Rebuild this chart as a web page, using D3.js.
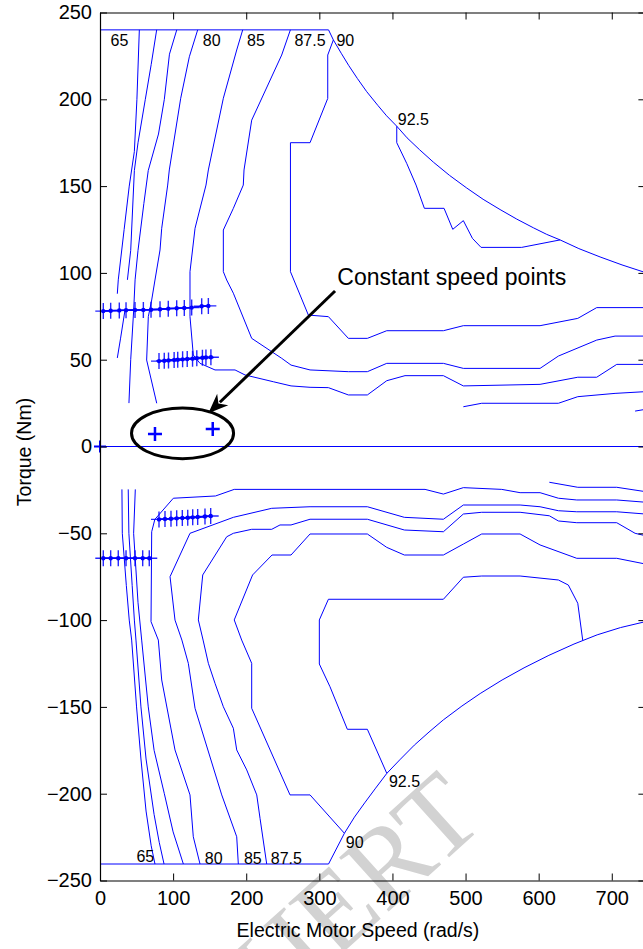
<!DOCTYPE html>
<html><head><meta charset="utf-8">
<script src="https://cdn.jsdelivr.net/npm/d3@7"></script>
<style>
body{margin:0;background:#fff}
svg{display:block}
text{font-family:"Liberation Sans",Arial,Helvetica,sans-serif}
</style>
</head><body>
<svg id="c" width="643" height="949"></svg>
<script>
// ---------------- DATA (speed rad/s, torque Nm) ----------------
const xTicks = [0,100,200,300,400,500,600,700];
const yTicks = [-250,-200,-150,-100,-50,0,50,100,150,200,250];
const xLabel = "Electric Motor Speed (rad/s)";
const yLabel = "Torque (Nm)";
const noteText = "Constant speed points";
const watermarkText = "IJERT";

// max torque envelope (motoring / generating)
const envelopeTop = [[0,240],[312.6,240],[319.2,234.2],[330,226.5],[340,219.6],[352,212],[364.8,204.4],[380,196.5],[392,190.5],[405.9,184.5],[420,177.8],[437,171],[456,163.8],[478,156.2],[501.6,148.9],[524,142.4],[547.2,136.5],[570,131],[592.7,126],[611,122.2],[629.3,119],[655,114],[684,109.2],[714,104.6],[746,100.2]];
const envelopeBottom = [[0,-240.5],[312.6,-240.5],[334.3,-222.8],[348,-213.5],[362,-205.3],[377,-196.8],[392.3,-188.3],[410,-180.5],[430,-172],[450,-164.5],[469.6,-157.5],[495,-149.5],[520,-142.3],[550,-134.5],[580,-127.5],[614,-120.3],[648.3,-113.8],[680,-108.5],[712,-104.3],[746,-100.9]];
const zeroLine = [[0,0],[746,0]];

// efficiency contours, motoring half
const c65Top = [[53.8,240],[50.5,200],[47,170],[40,150],[33,125],[25,96],[23.7,88]];
const c70Top = [[77.5,240],[70,220],[62,200],[52,175],[47,159],[42,113],[37.5,96]];
const c70TopLow = [[34,78],[28,62],[23.7,51]];
const c75Top = [[105,240],[95,226],[88,200],[80,180],[66,159],[60,140],[52,113],[48,96],[46,78],[42,50],[39.6,25]];
const c80Top = [[133.6,240],[122.2,224.5],[110.4,200.6],[94.8,159.3],[92.6,150.6],[84.4,125.7],[82.1,113.2],[75.2,95.9],[70.7,84.4],[66.1,74.8],[63.8,49.8],[77.6,24.9]];
const c85Top = [[195.2,240],[187,228.4],[168.7,200.6],[148.2,159.3],[145,150.6],[130,125.7],[123.1,100.7],[123.1,74.8],[127.6,52.7],[136.8,47.9],[157.3,44.1],[184.7,44.1],[198.4,41.2],[237.1,37.3],[261.3,34.9],[287.3,34.1],[312.4,33.9],[339.7,29.7],[365.7,29.7],[392.2,37.9],[417.2,40.8],[469.7,40.8],[497,34.9],[601.9,35.8],[653.5,39.9],[679.4,39.9],[706.8,47.3],[746,47.3]];
const c875Top = [[260.4,240],[248.5,225.5],[207.5,188],[197,159.3],[196,150.6],[182.4,137.2],[168.7,124.7],[168.7,100.7],[173.3,95.9],[182.4,88.3],[207.5,62.3],[248.5,50.8],[261.3,46.9],[287.3,44.1],[339.7,43.1],[365.7,43.1],[392.2,47.9],[469.7,47.9],[497,45],[601.9,45],[627,52.1],[679.4,61.3],[704.5,63.6],[746,63.6]];
const c90Top = [[319.2,234.2],[311.5,225.5],[311.5,200.5],[287.3,175],[260.5,175],[260.5,100.7],[285,75.7],[312.4,74.8],[339.7,62.3],[365.7,62.3],[392.2,66.7],[469.7,66.7],[497,69.6],[601.9,69.6],[653.5,73.8],[679.4,80],[746,80]];
const c925Top = [[405.9,184.5],[405.9,175],[419.5,163.1],[432.3,150.6],[443.7,137.2],[470.6,137.2],[482.5,125.1],[497,130.1],[509.4,119.9],[521.2,114.7],[576.8,114.7],[629.3,119]];
const c80TopHigh = [[497,22.9],[522.1,24.9],[627,24.9],[653.5,28.7],[704.5,30.6],[746,31.6]];
const c75TopHigh = [[731.9,20.4],[746,21.4]];

// efficiency contours, generating half
const c65Bot = [[30,-24.7],[30.5,-50],[36,-80],[40,-100],[43.3,-111.5],[50,-150],[56,-180],[63,-210],[70,-230],[75.2,-240.5]];
const c70Bot = [[38.6,-24.7],[39.5,-50],[44,-80],[47,-100],[49.2,-111.5],[56,-150],[63,-180],[74,-212],[81,-228],[87.6,-240.5]];
const c75Bot = [[48.3,-24.7],[46,-50],[52,-90],[57,-111.5],[66,-150],[74,-175],[88,-200],[100,-222],[114,-240.5]];
const c80Bot = [[746,-32.1],[706.8,-30.8],[652.1,-30.8],[627,-29.8],[601.9,-26.6],[574.6,-26.6],[549.5,-24.7],[497,-23.7],[469.7,-27.4],[444.6,-24.7],[183.6,-24.7],[158,-28.5],[100.3,-29.8],[75,-42],[70.7,-49.1],[69.8,-100.9],[79.8,-111.5],[84.4,-134.5],[102.6,-174.8],[123.1,-200.7],[127.6,-224.8],[136.8,-240.5]];
const c85Bot = [[746,-38.9],[706.8,-37.6],[652.1,-37.6],[627,-37],[601.9,-34.7],[574.6,-33.7],[497,-33.7],[469.7,-41.9],[416.3,-40.8],[365.7,-34.7],[287.3,-34.7],[234.9,-35.6],[182.4,-40.8],[123.1,-50],[95.8,-75],[102.6,-100],[112,-111.5],[120.8,-124.9],[130,-150.8],[166.5,-200.7],[187,-224.8],[189.2,-240.5]];
const c875Bot = [[746,-51.4],[731.9,-50],[706.8,-43.9],[652.1,-43.9],[627,-42.9],[614.6,-39.9],[574.6,-37.9],[522.1,-37.9],[497,-38.9],[469.7,-49.1],[416.3,-48.1],[365.7,-41.9],[287.3,-41.9],[261.3,-45.2],[246.2,-45.2],[234.9,-47.7],[207.5,-47.7],[182.4,-50],[173.3,-52],[140.5,-74],[134.5,-99.9],[141,-111.5],[148.2,-124.9],[157.3,-136.4],[168.7,-149.9],[182.4,-162.3],[187,-174.8],[200.7,-186.3],[214.4,-200.7],[218.9,-214.2],[228,-240.5]];
const c90Bot = [[746,-67.7],[706.8,-64.4],[652.1,-64.4],[601.9,-56.7],[574.6,-50.4],[522.1,-50.4],[497,-56.2],[469.7,-62.5],[416.3,-62.5],[392.2,-58.1],[365.7,-50.4],[287.3,-50.4],[261.3,-62.5],[235.3,-62.5],[208.7,-74],[183.6,-99.9],[193.8,-111.5],[207.5,-124.9],[207.5,-150.8],[259.9,-200.7],[287.3,-200.7],[334.3,-222.8]];
const c925Bot = [[392.3,-188.3],[365.7,-162.9],[338.3,-162.9],[314.6,-138.4],[300,-125.3],[300,-99.9],[312.4,-88],[469.7,-88],[497,-75.3],[522.1,-74.6],[574.6,-74.6],[627,-76.9],[640.6,-79.8],[653.5,-90.3],[660.3,-111.7]];
const c75BotHigh = [[614.6,-20.6],[653.5,-23.5],[706.8,-23.5],[746,-26]];

// contour labels: [text, speed, torque]
const contourLabels = [["65",26.7,233.6],["80",152.8,233.6],["85",213.4,233.6],["87.5",287.3,233.6],["90",335.6,233.6],["92.5",428.6,188.1],
  ["65",62,-235.9],["80",155.5,-237.6],["85",209,-237.6],["87.5",254.9,-237.6],["90",348.4,-228.2],["92.5",416.5,-192.7]];

// constant speed test points
const row1Speed = [4.5,14.6,26.4,35.6,47.9,59.3,69.8,82.1,93.4,104.9,115.3,125.4,139.1,148.2];
const row1Torque = [78,78.2,78.4,78.5,78.6,78.7,78.8,79.1,79.4,79.6,79.8,80,80.8,81];
const row2Speed = [80.7,87.9,93.7,101.4,106.3,113,119.3,126.6,132.4,140.1,144.9,151.7];
const row2Torque = [49.2,49.4,49.6,49.8,50,50.2,50.4,50.6,50.9,51.1,51.3,51.4];
const row3Speed = [80.7,88.9,97.1,104.9,112.6,120,126.8,133.6,143.6,151.4];
const row3Torque = [-42,-41.8,-41.6,-41.4,-41.2,-41,-40.8,-40.6,-40.3,-40];
const row4Speed = [4.5,14.6,25,35.6,47.9,58.4,67.4];
const row4Torque = [-64.4,-64.4,-64.4,-64.4,-64.4,-64.4,-64.4];
const circledSpeed = [75.2,154.2];
const circledTorque = [7.2,10.1];
const originPoint = [[0,0]];

// annotation anchors (speed, torque)
const ellipseCenter = [112.9,7.6], ellipseRadius = [69.8,14.6];
const arrowFrom = [321.5,89.6], arrowTo = [148.2,19.1];
const noteAnchor = [324.6,93];

// ---------------- DRAW ----------------
const svg = d3.select('#c');
const x = d3.scaleLinear().domain([0,746]).range([100,645.4]);
const y = d3.scaleLinear().domain([-250,250]).range([880.5,12.5]);
const BLUE = '#0000ff';
const line = d3.line().x(d=>x(d[0])).y(d=>y(d[1]));

// watermark (behind everything)
svg.append('text')
  .attr('transform','translate(487,823) rotate(-42)')
  .attr('text-anchor','end')
  .style('font-family','"Liberation Serif","DejaVu Serif",serif')
  .attr('font-size',112).attr('fill','#d2d2d2')
  .text(watermarkText);

const g = svg.append('g');

// contour + envelope lines
const allLines = [envelopeTop, envelopeBottom, zeroLine,
  c65Top,c70Top,c70TopLow,c75Top,c80Top,c85Top,c875Top,c90Top,c925Top,c80TopHigh,c75TopHigh,
  c65Bot,c70Bot,c75Bot,c80Bot,c85Bot,c875Bot,c90Bot,c925Bot,c75BotHigh];
g.selectAll('path.ct').data(allLines).enter().append('path')
  .attr('class','ct').attr('d',line).attr('fill','none')
  .attr('stroke',BLUE).attr('stroke-width',1);

// contour labels
g.selectAll('text.cl').data(contourLabels).enter().append('text')
  .attr('class','cl').attr('x',d=>x(d[1])).attr('y',d=>y(d[2]))
  .attr('text-anchor','middle').attr('dominant-baseline','central')
  .attr('font-size',16).attr('fill','#000').text(d=>d[0]);

// marker rows
function markerRow(sp, tq){
  const pts = sp.map((s,i)=>[s,tq[i]]);
  g.append('path').attr('d',line(pts)).attr('fill','none').attr('stroke',BLUE).attr('stroke-width',1.5);
  const m = g.selectAll(null).data(pts).enter().append('g')
    .attr('transform',d=>`translate(${x(d[0])},${y(d[1])})`);
  m.append('path').attr('d','M-8,0H8M0,-8V8').attr('stroke',BLUE).attr('stroke-width',1.4).attr('opacity',0.85);
  m.append('circle').attr('r',2.2).attr('fill',BLUE);
}
markerRow(row1Speed,row1Torque);
markerRow(row2Speed,row2Torque);
markerRow(row3Speed,row3Torque);
markerRow(row4Speed,row4Torque);

// origin and circled points
g.selectAll(null).data(originPoint).enter().append('path')
  .attr('transform',d=>`translate(${x(d[0])},${y(d[1])})`)
  .attr('d','M-6,0H6M0,-6V6').attr('stroke',BLUE).attr('stroke-width',2);
g.selectAll(null).data(circledSpeed.map((s,i)=>[s,circledTorque[i]])).enter().append('path')
  .attr('transform',d=>`translate(${x(d[0])},${y(d[1])})`)
  .attr('d','M-7,0H7M0,-7V7').attr('stroke',BLUE).attr('stroke-width',2.5);

// ellipse
const ex = x(ellipseCenter[0]), ey = y(ellipseCenter[1]);
g.append('ellipse').attr('cx',ex).attr('cy',ey)
  .attr('rx',x(ellipseRadius[0])-x(0)).attr('ry',y(0)-y(ellipseRadius[1]))
  .attr('fill','none').attr('stroke','#000').attr('stroke-width',3);

// arrow
const ax0=x(arrowFrom[0]), ay0=y(arrowFrom[1]), ax1=x(arrowTo[0]), ay1=y(arrowTo[1]);
const ang = Math.atan2(ay1-ay0, ax1-ax0), hl=20, hw=8;
const bx = ax1 - hl*Math.cos(ang), by = ay1 - hl*Math.sin(ang);
g.append('line').attr('x1',ax0).attr('y1',ay0).attr('x2',bx+4*Math.cos(ang)).attr('y2',by+4*Math.sin(ang))
  .attr('stroke','#000').attr('stroke-width',3);
g.append('path').attr('d',`M${ax1},${ay1}L${bx - hw*Math.sin(ang)},${by + hw*Math.cos(ang)}L${bx+6*Math.cos(ang)},${by+6*Math.sin(ang)}L${bx + hw*Math.sin(ang)},${by - hw*Math.cos(ang)}Z`)
  .attr('fill','#000');

g.append('text').attr('x',x(noteAnchor[0])).attr('y',y(noteAnchor[1]))
  .attr('font-size',23).attr('fill','#000').text(noteText);

// axes
function styleAxis(sel){
  sel.selectAll('path.domain').attr('stroke','#000').attr('stroke-width',1.2);
  sel.selectAll('.tick line').attr('stroke','#000').attr('stroke-width',1);
  sel.selectAll('.tick text').attr('font-size',20).attr('fill','#000')
    .attr('font-family','"Liberation Sans",Arial,sans-serif');
}
const axB = svg.append('g').attr('transform','translate(0,880.5)')
  .call(d3.axisBottom(x).tickValues(xTicks).tickFormat(d3.format('d')).tickSizeInner(-7).tickSizeOuter(0).tickPadding(10));
styleAxis(axB);
const axT = svg.append('g').attr('transform','translate(0,12.5)')
  .call(d3.axisTop(x).tickValues(xTicks).tickFormat('').tickSizeInner(-7).tickSizeOuter(0));
styleAxis(axT);
const axL = svg.append('g').attr('transform','translate(100,0)')
  .call(d3.axisLeft(y).tickValues(yTicks).tickFormat(d3.format('d')).tickSizeInner(-7).tickSizeOuter(0).tickPadding(8));
styleAxis(axL);
const axR = svg.append('g').attr('transform','translate(645.4,0)')
  .call(d3.axisRight(y).tickValues(yTicks).tickFormat('').tickSizeInner(-7).tickSizeOuter(0));
styleAxis(axR);

svg.append('text').attr('x',358).attr('y',937).attr('text-anchor','middle')
  .attr('font-size',19.5).attr('fill','#000').text(xLabel);
svg.append('text').attr('transform','translate(31,452) rotate(-90)').attr('text-anchor','middle')
  .attr('font-size',19.5).attr('fill','#000').text(yLabel);
</script>
</body></html>
